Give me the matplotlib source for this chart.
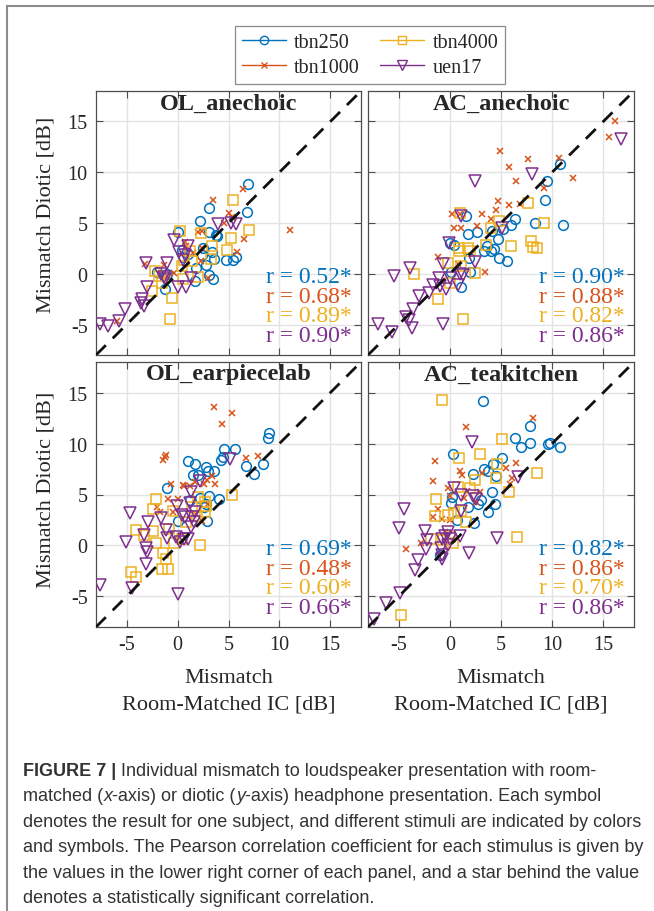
import matplotlib.pyplot as plt
import numpy as np
from matplotlib.lines import Line2D

plt.rcParams['axes.unicode_minus'] = False

# stimuli and colors (MATLAB default order)
stimuli = ['tbn250', 'tbn1000', 'tbn4000', 'uen17']
colors = ['#0072BD', '#D95319', '#EDB120', '#7E2F8E']
markers = ['o', 'x', 's', 'v']

panel_titles = ['OL_anechoic', 'AC_anechoic', 'OL_earpiecelab', 'AC_teakitchen']

# correlation coefficients per panel (rows) and stimulus (cols)
r_values = [
    ['0.52', '0.68', '0.89', '0.90'],
    ['0.90', '0.88', '0.82', '0.86'],
    ['0.69', '0.48', '0.60', '0.66'],
    ['0.82', '0.86', '0.70', '0.86'],
]

# ---- OL_anechoic ----
ol_an_tbn250 = [(6.9, 8.8), (6.8, 6.1), (3.1, 6.5), (2.2, 5.2), (0.0, 4.1), (3.1, 4.1), (3.8, 3.8),
                (3.9, 3.7), (2.5, 2.5), (0.4, 2.3), (3.4, 2.1), (3.6, 1.5), (4.8, 1.4), (5.4, 1.4),
                (5.7, 1.7), (1.8, 0.6), (2.8, 0.9), (-2.0, 0.2), (-1.0, 0.0), (-1.2, -1.5), (3.1, -0.1),
                (3.5, -0.5), (1.7, -0.7), (0.5, 1.7), (1.0, 1.9), (2.4, 1.8)]
ol_an_tbn1000 = [(6.4, 8.3), (3.5, 7.3), (5.0, 6.0), (5.3, 5.6), (11.0, 4.3), (6.5, 3.4), (5.8, 2.1),
                 (2.0, 4.1), (2.4, 4.2), (0.7, 3.1), (0.8, 2.75), (2.4, 2.5), (2.3, 1.3), (3.0, -0.4),
                 (-3.2, 1.0), (-1.3, 0.9), (-1.0, -0.2), (-0.3, 0.1), (-5.9, -4.7), (1.5, 2.0), (4.6, 5.0)]
ol_an_tbn4000 = [(5.4, 7.3), (7.0, 4.3), (5.2, 3.5), (4.9, 2.3), (0.2, 4.2), (2.3, 4.0), (3.4, 2.7),
                 (3.3, 1.5), (-2.2, 0.3), (-1.8, -0.2), (-2.5, -1.7), (-0.5, -2.4), (-0.7, -4.5),
                 (0.5, -0.5), (2.0, -0.3), (0.4, 0.8), (0.6, 1.4), (1.4, 1.3), (-1.5, -0.9), (1.2, 2.2)]
ol_an_uen17 = [(-7.6, -4.9), (-6.8, -5.1), (-5.7, -4.7), (-5.2, -3.5), (-3.3, -3.2), (-3.5, -2.5),
               (-3.0, -1.3), (-3.1, 1.05), (-1.0, 1.05), (-0.3, 3.3), (1.05, 2.75), (0.1, 2.1),
               (0.5, 1.4), (-1.35, -0.3), (-1.2, -0.5), (0.0, -1.3), (0.85, -1.3), (1.35, -0.4),
               (4.0, 4.9), (5.2, 5.0), (5.7, 4.9), (-1.6, 0.0), (0.7, 1.8), (-3.6, -2.9)]

# ---- AC_anechoic ----
ac_an_tbn250 = [(10.75, 10.8), (9.5, 9.1), (9.3, 7.3), (11.1, 4.8), (8.3, 5.0), (6.4, 5.4), (6.0, 4.8),
                (4.7, 3.4), (4.3, 2.4), (3.6, 2.7), (4.0, 2.2), (3.3, 2.2), (4.8, 1.6), (5.6, 1.3),
                (2.7, 4.1), (1.8, 3.9), (1.6, 5.7), (0.0, 3.0), (0.1, 0.2), (2.0, 0.2), (1.1, -1.3),
                (1.9, 1.6), (5.2, 4.4), (4.1, 4.2), (0.4, 2.8)]
ac_an_tbn1000 = [(16.1, 15.0), (15.6, 13.5), (4.9, 12.1), (7.6, 11.3), (10.7, 11.4), (5.8, 10.5),
                 (6.5, 9.1), (12.0, 9.4), (4.7, 7.2), (5.8, 6.8), (6.9, 6.9), (4.5, 6.3), (3.1, 5.9),
                 (4.0, 5.4), (0.2, 5.9), (1.0, 5.9), (0.4, 4.5), (1.1, 4.5), (2.7, 4.7), (-1.2, 1.7),
                 (0.75, 1.0), (3.4, 0.15), (9.2, 8.4)]
ac_an_tbn4000 = [(7.6, 7.0), (9.2, 5.0), (1.0, 6.0), (4.0, 4.5), (4.8, 5.2), (6.0, 2.7), (7.9, 3.2),
                 (8.1, 2.6), (8.5, 2.5), (3.5, 2.8), (0.9, 2.2), (1.8, 2.5), (2.0, 2.2), (-0.2, 1.1),
                 (-3.5, 0.0), (2.45, 0.1), (0.0, -0.95), (-1.2, -2.5), (1.3, -4.5), (1.1, 0.8), (0.9, 2.5)]
ac_an_uen17 = [(16.7, 13.3), (8.0, 9.8), (2.5, 9.1), (5.1, 4.5), (1.1, 5.7), (-0.1, 3.0), (2.5, 1.15),
               (-0.7, 1.0), (-3.9, 0.6), (-5.5, -0.2), (1.0, -0.05), (-1.6, -1.15), (-1.0, -1.2),
               (-0.4, -1.5), (0.8, -1.15), (-2.0, -1.9), (-3.0, -2.2), (-3.6, -3.5), (-4.3, -4.3),
               (-4.0, -4.6), (-3.7, -5.3), (-0.7, -4.9), (-7.0, -4.9), (-5.7, -5.7), (-1.1, -0.4),
               (0.0, -0.4), (1.3, -0.1)]

# ---- OL_earpiecelab ----
ol_ep_tbn250 = [(8.95, 11.0), (8.85, 10.5), (8.4, 8.0), (7.5, 7.0), (6.7, 7.8), (5.6, 9.5), (4.6, 9.5),
                (4.5, 8.7), (4.3, 8.4), (1.0, 8.3), (1.7, 8.0), (2.8, 7.7), (3.0, 7.3), (3.6, 7.3),
                (1.5, 6.9), (2.0, 6.9), (-1.05, 5.6), (1.2, 4.5), (2.2, 4.7), (3.1, 4.85), (4.1, 4.6),
                (2.8, 4.1), (0.0, 2.4), (2.9, 2.4), (2.6, 3.8)]
ol_ep_tbn1000 = [(3.6, 13.6), (4.4, 11.9), (5.3, 13.0), (-1.1, 8.9), (-1.4, 8.4), (-1.2, 8.7), (6.7, 8.6),
                 (7.9, 8.8), (-0.6, 6.0), (0.5, 5.9), (0.65, 5.8), (1.25, 5.8), (1.7, 6.2), (3.4, 6.8),
                 (2.9, 6.4), (3.7, 6.0), (2.6, 6.0), (-0.9, 4.6), (0.0, 4.6), (-2.0, 3.75), (-1.7, 3.3),
                 (-0.4, 3.3), (2.4, 2.4), (3.0, 4.1), (1.8, 3.1)]
ol_ep_tbn4000 = [(5.3, 5.0), (-2.1, 4.6), (-2.4, 3.6), (-4.1, 1.5), (-3.3, 1.05), (-2.4, 1.4), (-2.1, 0.2),
                 (-1.4, -0.7), (-1.1, -1.3), (-1.5, -2.3), (-0.9, -2.3), (-4.6, -2.6), (-4.1, -3.1),
                 (2.2, 0.05), (2.0, 4.8), (2.7, 4.3), (2.8, 3.9), (2.7, 3.3), (1.9, 2.9), (-0.4, 3.35),
                 (0.85, 2.3), (0.4, 0.6), (-0.3, 0.2), (-0.8, 1.6), (1.4, 3.8)]
ol_ep_uen17 = [(5.1, 8.5), (2.2, 6.3), (1.3, 5.2), (1.2, 4.2), (-0.1, 3.9), (-1.6, 2.7), (-4.7, 3.2),
               (-2.85, 2.3), (-1.1, 1.5), (-3.3, 1.0), (-0.2, 0.85), (-1.05, 0.7), (-5.1, 0.3),
               (-3.1, -0.2), (-3.0, -0.6), (-3.1, -1.8), (0.25, 0.35), (0.6, 0.6), (1.0, 0.6),
               (0.75, 2.8), (1.4, 2.8), (1.6, 2.3), (1.3, 1.8), (1.7, 3.3), (-4.5, -4.2), (0.0, -4.8),
               (-7.6, -3.9), (0.4, 3.0)]

# ---- AC_teakitchen ----
ac_tk_tbn250 = [(3.2, 14.2), (7.8, 11.7), (6.4, 10.5), (7.0, 9.7), (7.8, 10.1), (9.6, 10.0), (9.8, 10.1),
                (10.8, 9.7), (0.3, 9.0), (5.1, 8.6), (4.2, 8.0), (3.3, 7.5), (3.7, 7.3), (4.5, 6.8),
                (2.3, 7.0), (4.1, 5.2), (4.4, 4.1), (2.8, 4.1), (1.8, 3.8), (3.7, 3.3), (0.2, 4.8),
                (0.1, 4.2), (0.7, 2.5), (2.4, 2.2), (-1.0, -0.9), (3.0, 4.5)]
ac_tk_tbn1000 = [(8.1, 12.5), (1.6, 11.6), (-1.5, 8.3), (1.0, 7.3), (1.15, 6.9), (3.1, 7.1), (5.5, 7.6),
                 (6.5, 8.1), (6.1, 6.6), (5.9, 6.0), (-1.6, 6.3), (-0.15, 5.6), (1.7, 5.3), (2.9, 5.2),
                 (0.0, 4.9), (-1.2, 3.6), (-1.6, 2.8), (-0.8, 2.6), (0.0, 2.5), (-2.8, 0.2), (-4.3, -0.3),
                 (-0.5, 1.3), (1.35, 4.7), (2.6, 4.3)]
ac_tk_tbn4000 = [(-0.8, 14.3), (5.1, 10.4), (0.9, 8.6), (2.9, 9.0), (4.65, 8.0), (4.5, 6.6), (2.5, 6.4),
                 (2.0, 5.6), (0.75, 5.7), (8.5, 7.1), (5.8, 5.2), (-1.4, 4.6), (-1.5, 2.9), (-0.2, 3.0),
                 (0.4, 3.2), (1.6, 2.3), (6.6, 0.85), (0.0, 0.8), (0.3, 0.2), (-0.65, 0.5), (-1.8, 0.6),
                 (-4.8, -6.8), (1.1, 3.4)]
ac_tk_uen17 = [(2.2, 10.2), (6.65, 6.7), (0.4, 5.6), (1.1, 5.0), (2.55, 4.6), (2.3, 4.9), (-4.5, 3.6),
               (1.1, 3.4), (-5.0, 1.7), (-2.4, 1.45), (-2.2, 0.5), (-0.15, 1.3), (1.0, 0.9), (4.6, 0.7),
               (-0.75, 0.6), (-0.5, 0.9), (0.0, 0.6), (-0.9, -0.2), (-2.3, -0.35), (-3.1, -1.4),
               (-3.4, -2.4), (-0.8, -1.35), (1.9, -0.75), (-4.9, -4.7), (-6.2, -5.6), (-7.4, -7.2),
               (-0.2, 0.0), (-0.8, -0.9)]

panel_data = [
    [ol_an_tbn250, ol_an_tbn1000, ol_an_tbn4000, ol_an_uen17],
    [ac_an_tbn250, ac_an_tbn1000, ac_an_tbn4000, ac_an_uen17],
    [ol_ep_tbn250, ol_ep_tbn1000, ol_ep_tbn4000, ol_ep_uen17],
    [ac_tk_tbn250, ac_tk_tbn1000, ac_tk_tbn4000, ac_tk_uen17],
]

ticks = [-5, 0, 5, 10, 15]
lims = (-8, 18)

serif = ['Liberation Serif', 'DejaVu Serif']
caption_font = ['Liberation Sans', 'DejaVu Sans']
txt_col = '#262626'

W, H = 654, 912
fig = plt.figure(figsize=(W / 100, H / 100), dpi=100)
fig.patch.set_facecolor('white')

# page frame (top and left edge)
fig.add_artist(Line2D([7 / W, 1.0], [1 - 7 / H, 1 - 7 / H], color='#8c8c8c', lw=1.5))
fig.add_artist(Line2D([7 / W, 7 / W], [0.0, 1 - 7 / H], color='#8c8c8c', lw=1.5))

# panel boxes in pixels: left, top, right, bottom
boxes = [(96, 92, 361, 356), (368, 92, 634, 356), (96, 363, 361, 628), (368, 363, 634, 628)]

msize = {'o': 7, 'x': 5, 's': 6.5, 'v': 8.5}

for i, (l, t, r, b) in enumerate(boxes):
    ax = fig.add_axes([l / W, 1 - b / H, (r - l) / W, (b - t) / H])
    for j in range(4):
        pts = np.array(panel_data[i][j])
        ax.plot(pts[:, 0], pts[:, 1], linestyle='none', marker=markers[j], color=colors[j],
                mfc='none', mec=colors[j], ms=msize[markers[j]], mew=1.1, zorder=3)
    ax.plot(lims, lims, color='#111111', lw=2.0, dashes=(5, 3.5), zorder=4)
    ax.set_xlim(lims)
    ax.set_ylim(lims)
    ax.set_xticks(ticks)
    ax.set_yticks(ticks)
    ax.grid(True, color='#e3e3e3', lw=1.0, zorder=0)
    ax.set_axisbelow(True)
    ax.tick_params(direction='in', top=True, right=True, length=5, width=0.8, colors='#4d4d4d',
                   labelcolor=txt_col, labelsize=14.5, pad=6)
    for lab in ax.get_xticklabels() + ax.get_yticklabels():
        lab.set_family(serif)
    for sp in ax.spines.values():
        sp.set_color('#4d4d4d')
        sp.set_linewidth(0.9)
    if i % 2 == 1:
        ax.tick_params(labelleft=False)
    if i < 2:
        ax.tick_params(labelbottom=False)
    else:
        ax.set_xlabel('Mismatch\nRoom-Matched IC [dB]', family=serif, fontsize=16, color=txt_col,
                      linespacing=1.55, labelpad=10)
    ax.text(0.5, 0.955, panel_titles[i], transform=ax.transAxes, ha='center', va='center',
            family=serif, fontsize=17.5, fontweight='bold', color=txt_col, zorder=5)
    for j in range(4):
        ax.text(0.965, 0.296 - 0.074 * j, 'r = ' + r_values[i][j] + '*', transform=ax.transAxes,
                ha='right', va='center', family=serif, fontsize=17, color=colors[j], zorder=5)

# one y label per row
for yc in (215, 490):
    fig.text(46 / W, 1 - yc / H, 'Mismatch Diotic [dB]', rotation=90, ha='center', va='center',
             family=serif, fontsize=16, color=txt_col)

# legend
handles = [Line2D([0], [0], color=colors[j], marker=markers[j], mfc='none', mec=colors[j],
                  ms=msize[markers[j]] - 1, mew=1.0, lw=1.0) for j in range(4)]
leg = fig.legend(handles, stimuli, loc='center', bbox_to_anchor=(370 / W, 1 - 56 / H), ncol=2,
                 frameon=True, fancybox=False, edgecolor='#6e6e6e', handlelength=2.2,
                 columnspacing=1.0, handletextpad=0.4, labelspacing=0.25, borderpad=0.35,
                 prop={'family': serif, 'size': 14.5})
leg.get_frame().set_linewidth(0.9)
for t in leg.get_texts():
    t.set_color(txt_col)

# caption
caption_lines = [
    [('FIGURE 7 |', 'bold', 'normal'), (' Individual mismatch to loudspeaker presentation with room-', 'normal', 'normal')],
    [('matched (', 'normal', 'normal'), ('x', 'normal', 'italic'), ('-axis) or diotic (', 'normal', 'normal'),
     ('y', 'normal', 'italic'), ('-axis) headphone presentation. Each symbol', 'normal', 'normal')],
    [('denotes the result for one subject, and different stimuli are indicated by colors', 'normal', 'normal')],
    [('and symbols. The Pearson correlation coefficient for each stimulus is given by', 'normal', 'normal')],
    [('the values in the lower right corner of each panel, and a star behind the value', 'normal', 'normal')],
    [('denotes a statistically significant correlation.', 'normal', 'normal')],
]
renderer = fig.canvas.get_renderer()
for k, pieces in enumerate(caption_lines):
    x = 23 / W
    y = 1 - (771 + 25.6 * k) / H
    for s, w, st in pieces:
        tx = fig.text(x, y, s, family=caption_font, fontsize=13.0, fontweight=w, fontstyle=st,
                      color='#333333', ha='left', va='center')
        bb = tx.get_window_extent(renderer)
        x += bb.width / W

fig.savefig('out.png', dpi=100)
